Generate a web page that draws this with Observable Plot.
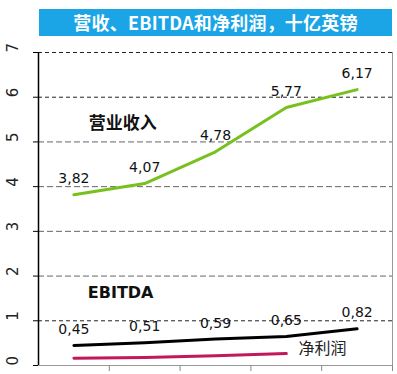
<!DOCTYPE html>
<html>
<head>
<meta charset="utf-8">
<script src="https://cdn.jsdelivr.net/npm/d3@7"></script>
<script src="https://cdn.jsdelivr.net/npm/@observablehq/plot@0.6"></script>
<style>
  html, body { margin: 0; padding: 0; background: #fff; }
  #title {
    margin: 9px 0 0 39px; width: 353px; height: 27px; line-height: 27px;
    background: #1ba5e6; color: #fff; text-align: center;
    font: bold 18px "Noto Sans CJK SC", sans-serif; letter-spacing: 0.2px;
  }
  #chart svg { display: block; }
</style>
</head>
<body>
<div id="title">营收、EBITDA和净利润，十亿英镑</div>
<div id="chart"></div>
<script>
// category index (periods, unlabeled in the reference)
const periods = [1, 2, 3, 4, 5];
const revenue = [3.82, 4.07, 4.78, 5.77, 6.17];
const ebitda = [0.45, 0.51, 0.59, 0.65, 0.82];
const netProfitPeriods = [1, 2, 3, 4];
const netProfit = [0.16, 0.18, 0.22, 0.27];
const yTicks = [0, 1, 2, 3, 4, 5, 6, 7];
const bandEdges = [1.5, 2.5, 3.5, 4.5, 5.5];

// series annotations
const seriesNames = ["营业收入", "EBITDA", "净利润"];
const seriesLabelX = [1.69, 1.66, 4.51];
const seriesLabelY = [5.41, 1.63, 0.38];

const fmt = v => v.toFixed(2).replace(".", ",");
const revData = periods.map((p, i) => ({p, v: revenue[i]}));
const ebData = periods.map((p, i) => ({p, v: ebitda[i]}));
const npData = netProfitPeriods.map((p, i) => ({p, v: netProfit[i]}));
const labels = seriesNames.map((n, i) => ({n, x: seriesLabelX[i], y: seriesLabelY[i]}));

const chart = Plot.plot({
  width: 397,
  height: 338,
  marginLeft: 38,
  marginRight: 5,
  marginTop: 16,
  marginBottom: 9,
  x: {domain: [0.5, 5.5]},
  y: {domain: [0, 7]},
  style: {fontFamily: "DejaVu Sans, sans-serif", background: "#fff", overflow: "visible"},
  marks: [
    Plot.ruleY([2, 3, 4, 5], {stroke: "#666", strokeDasharray: "6,3", strokeWidth: 1}),
    Plot.ruleY([1, 6, 7], {stroke: "#222", strokeDasharray: "4,3", strokeWidth: 1}),
    Plot.ruleY([0], {stroke: "#999", strokeWidth: 1}),
    Plot.ruleX([5.5], {y1: 0, y2: 7, stroke: "#999", strokeWidth: 1}),
    Plot.ruleX([0.5], {y1: 0, y2: 7, stroke: "#000", strokeWidth: 1.5}),
    Plot.axisX({ticks: bandEdges, tickSize: 6, tickFormat: () => "", stroke: "#888", label: null}),
    Plot.axisY({ticks: yTicks, tickSize: 5, tickFormat: () => "", stroke: "#000", label: null}),
    Plot.text(yTicks, {y: d => d, text: d => String(d), frameAnchor: "left", dx: -25, rotate: -90, fontSize: 15, fill: "#222"}),
    Plot.line(revData, {x: "p", y: "v", stroke: "#78c01e", strokeWidth: 3}),
    Plot.line(ebData, {x: "p", y: "v", stroke: "#000", strokeWidth: 3}),
    Plot.line(npData, {x: "p", y: "v", stroke: "#c2185b", strokeWidth: 3}),
    Plot.text(revData, {x: "p", y: "v", text: d => fmt(d.v), dy: -16, fontSize: 14, fill: "#111"}),
    Plot.text(ebData, {x: "p", y: "v", text: d => fmt(d.v), dy: -16, fontSize: 14, fill: "#111"}),
    Plot.text(labels.slice(0, 1), {x: "x", y: "y", text: "n", fontSize: 17, fontWeight: "bold", fontFamily: "Noto Sans CJK SC", fill: "#111"}),
    Plot.text(labels.slice(1, 2), {x: "x", y: "y", text: "n", fontSize: 16, fontWeight: "bold", fill: "#111"}),
    Plot.text(labels.slice(2, 3), {x: "x", y: "y", text: "n", fontSize: 16, fontFamily: "Noto Sans CJK SC", fill: "#222"})
  ]
});
document.getElementById("chart").appendChild(chart);
</script>
</body>
</html>
